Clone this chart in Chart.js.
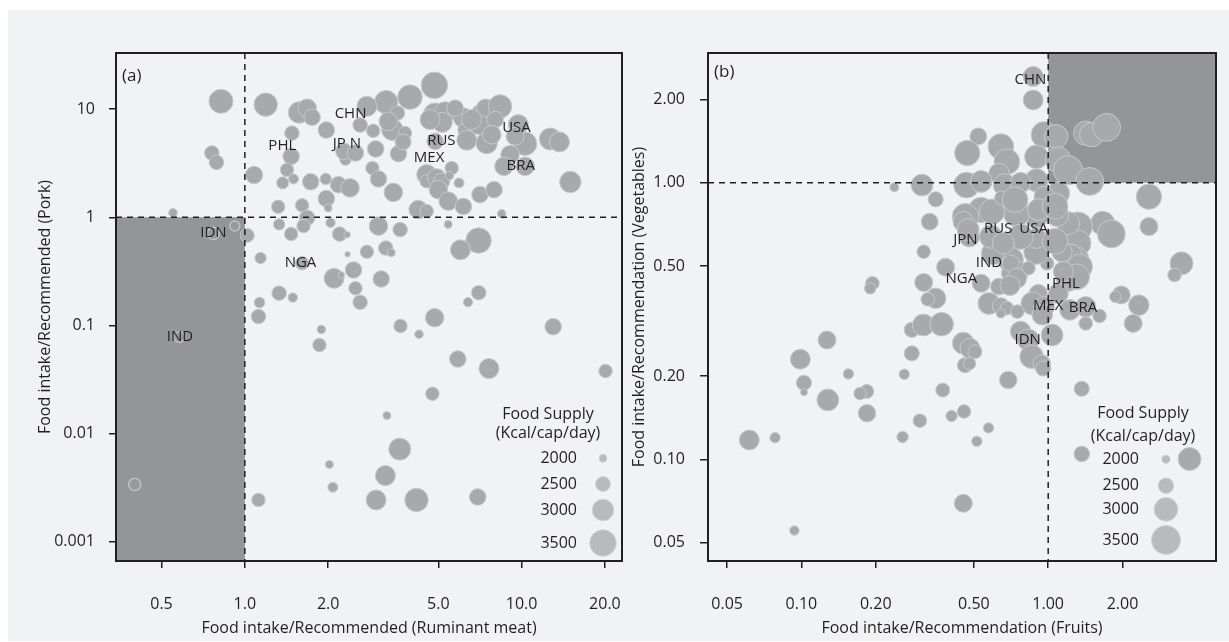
<!DOCTYPE html>
<html><head><meta charset="utf-8">
<script src="https://cdn.jsdelivr.net/npm/chart.js@4.4.0/dist/chart.umd.min.js"></script>
<style>
html,body{margin:0;padding:0;background:#fff;width:1229px;height:642px;overflow:hidden;}
#bg{position:absolute;left:8px;top:10px;width:1221px;height:631px;background:#f1f2f4;}
#c1{position:absolute;left:0;top:0;}
#c2{position:absolute;left:624px;top:0;}
</style></head><body>
<div id="bg"></div>
<canvas id="c1" width="624" height="642"></canvas>
<canvas id="c2" width="605" height="642"></canvas>
<script>
// ---------------- Panel (a): ruminant meat vs pork ----------------
const meatX = [0.82,1.19,1.57,1.68,1.75,1.97,1.48,1.47,1.42,1.37,1.50,1.73,1.96,2.18,2.40,1.97,2.0,1.32,1.61,1.68,1.63,1.33,2.04,0.76,0.79,1.08,0.55,2.31,2.28,2.51,0.92,1.02,0.77,
 4.84,3.95,3.24,2.76,3.56,3.41,3.79,2.91,2.97,3.59,4.87,5.29,5.17,4.67,4.87,6.16,6.25,6.34,7.18,7.42,8.36,7.02,7.48,9.73,10.3,9.08,8.63,10.3,12.7,13.7,15.0,
 5.59,4.54,4.54,4.94,5.14,5.0,5.48,5.94,5.43,6.16,7.07,7.95,8.47,4.23,4.54,3.04,3.64,5.43,6.99,2.89,3.04,3.44,3.73,2.61,5.75,6.6,8.02,7.8,9.47,3.3,
 1.47,2.2,2.34,6.01,1.14,1.61,2.35,2.76,3.23,3.38,2.1,2.23,2.47,2.51,2.61,3.11,1.33,1.49,1.13,1.12,7.0,6.4,4.85,3.65,4.26,13.0,1.89,1.86,5.88,7.62,20.1,
 4.76,3.26,3.63,2.02,3.22,2.08,1.12,2.98,4.17,6.94,0.40,0.58];
const porkY = [11.8,11.0,9.3,10.2,8.4,6.4,6.0,3.66,2.75,2.08,2.26,2.13,2.26,2.0,1.87,1.49,1.22,1.25,1.29,0.99,0.83,0.86,0.89,3.93,3.22,2.46,1.10,3.41,4.07,3.93,0.83,0.68,0.71,
 16.6,12.9,11.6,10.6,9.2,6.45,6.0,6.3,4.28,3.87,8.9,9.3,7.55,8.0,5.04,8.3,6.4,5.15,8.9,10.2,10.6,7.2,4.86,7.2,4.79,3.79,2.96,2.96,5.29,4.97,2.12,
 2.85,2.48,2.15,2.31,2.15,1.8,2.42,2.08,1.41,1.26,1.62,1.8,1.08,1.18,1.14,0.83,0.77,0.86,0.61,2.85,2.26,1.70,4.96,7.13,10.2,8.0,8.0,5.8,5.6,7.7,
 0.70,0.70,0.69,0.50,0.42,0.376,0.455,0.48,0.52,0.47,0.273,0.293,0.326,0.221,0.164,0.269,0.199,0.181,0.163,0.121,0.201,0.164,0.118,0.099,0.083,0.0975,0.092,0.066,0.049,0.040,0.038,
 0.0234,0.0147,0.0072,0.0052,0.0041,0.0032,0.00244,0.00244,0.00244,0.0026,0.0034,0.078];
const supplyA = [3240,3180,2990,2770,2620,2620,2470,2620,2390,2290,2140,2620,2240,2620,2770,2620,2000,2390,2390,2530,2390,2240,2100,2470,2470,2680,2040,2240,2620,2620,2140,2430,2290,
 3500,3300,3180,2880,2470,2990,2390,2390,2620,2620,3180,2990,2880,2880,2620,2880,2470,2880,2990,2770,3180,2880,2990,2880,3180,2770,2770,2770,3040,2880,2990,
 2390,2880,2390,2770,2620,2770,2040,2140,2770,2620,2620,2620,2040,2770,2390,2770,2470,2000,3380,2390,2620,2770,2580,2470,2620,2880,2620,2770,2720,2770,
 2390,2470,1900,2880,2240,2390,1815,2390,2470,2000,2880,1900,2620,2390,2470,2620,2470,2100,2190,2470,2470,2100,2770,2390,2040,2620,2040,2390,2620,2880,2390,
 2390,2000,3040,2000,2880,2140,2390,2880,3180,2620,2290,2190];
const countryA = ['CHN','PHL','JP N','RUS','MEX','USA','BRA','IDN','NGA','IND'];
const countryAX = [2.41,1.366,2.336,5.13,4.63,9.58,9.93,0.77,1.589,0.583];
const countryAY = [9.15,4.56,4.83,5.07,3.56,6.73,2.98,0.716,0.38,0.0788];
const xTicksA = [0.5,1,2,5,10,20];
const xTickLabelsA = ['0.5','1.0','2.0','5.0','10.0','20.0'];
const yTicksA = [0.001,0.01,0.1,1,10];
const yTickLabelsA = ['0.001','0.01','0.1','1','10'];

// ---------------- Panel (b): fruits vs vegetables ----------------
const fruitX = [0.869,0.869,0.964,1.077,1.419,1.5,1.725,0.521,0.47,0.643,0.68,0.632,0.896,1.097,1.203,1.473,0.896,0.308,0.238,0.35,0.467,0.535,0.667,0.773,1.097,0.964,2.56,2.56,3.47,3.25,
 1.663,1.803,1.318,1.318,1.203,1.294,1.224,1.137,1.343,1.203,0.99,0.896,0.896,1.089,0.896,0.745,0.773,0.705,0.732,0.597,0.586,0.535,0.592,0.462,0.453,0.479,0.331,0.313,0.384,0.313,
 0.194,0.19,0.35,0.325,0.535,0.632,0.705,0.832,0.912,0.863,0.964,0.946,0.575,0.643,0.68,0.75,0.643,1.224,1.419,1.614,1.419,1.977,1.87,2.33,2.21,1.037,0.773,0.127,
 0.474,0.647,0.734,0.912,1.066,1.066,0.658,0.28,0.312,0.37,0.28,0.261,0.453,0.482,0.505,0.46,0.48,0.689,0.374,1.367,0.184,0.831,0.857,0.941,0.955,0.745,1.305,1.151,1.099,0.7,
 0.099,0.155,0.1024,0.1024,0.128,0.173,0.1845,0.0615,0.0782,0.0937,0.453,0.257,0.302,0.406,0.456,0.573,0.514,1.368,3.74];
const vegY = [2.42,1.99,1.49,1.47,1.51,1.49,1.585,1.47,1.28,1.35,1.19,1.08,1.24,1.21,1.11,1.01,1.02,0.98,0.963,0.871,0.98,1.01,0.98,1.0,0.915,0.89,0.89,0.694,0.511,0.464,
 0.713,0.653,0.694,0.604,0.713,0.526,0.541,0.563,0.497,0.445,0.511,0.563,0.63,0.764,0.754,0.775,0.638,0.526,0.471,0.556,0.638,0.797,0.786,0.754,0.723,0.638,0.723,0.563,0.495,0.436,
 0.433,0.415,0.382,0.379,0.433,0.421,0.511,0.491,0.398,0.366,0.356,0.333,0.366,0.358,0.352,0.342,0.337,0.347,0.356,0.33,0.31,0.393,0.387,0.361,0.31,0.2815,0.29,0.27,
 0.676,0.88,0.868,0.799,0.822,0.614,0.605,0.294,0.306,0.308,0.2416,0.203,0.263,0.252,0.245,0.219,0.222,0.1936,0.178,0.18,0.176,0.27,0.235,0.222,0.213,0.451,0.457,0.477,0.398,0.425,
 0.23,0.2036,0.189,0.175,0.164,0.173,0.1468,0.1175,0.1198,0.0553,0.0694,0.1205,0.138,0.1435,0.149,0.13,0.1162,0.1046,0.1003];
const supplyB = [2770,2770,3240,2990,3040,3040,3380,2580,3140,3180,3180,2800,2990,3180,3500,3380,2950,2880,2040,2470,3180,2880,2950,2800,2950,2800,3140,2650,2950,2360,
 3040,3380,3500,3240,2950,3240,3140,2800,3140,2950,2360,3140,2800,2950,2950,3240,3140,3140,3240,2950,2950,3140,3140,3240,2800,2800,2580,2360,2650,2650,
 2360,2210,2800,2360,2650,2580,2580,2360,2650,2950,2800,2800,2880,2580,2360,2360,2070,2800,2800,2360,2360,2650,2210,2800,2650,2880,2800,2650,
 2880,2390,3180,2880,3180,3180,2880,2470,2880,2990,2470,2140,2880,2770,2390,2470,2290,2620,2390,2470,2390,2880,2990,2620,2470,2770,3180,2770,2770,2770,
 2770,2140,2470,1900,2880,2290,2620,2770,2140,2070,2650,2210,2360,2210,2360,2140,2140,2500,2950];
const countryB = ['CHN','RUS','USA','JPN','IND','NGA','PHL','MEX','BRA','IDN'];
const countryBX = [0.847,0.627,0.873,0.462,0.575,0.445,1.18,1.0,1.383,0.826];
const countryBY = [2.364,0.684,0.679,0.624,0.514,0.448,0.433,0.36,0.353,0.2716];
const xTicksB = [0.05,0.1,0.2,0.5,1,2];
const xTickLabelsB = ['0.05','0.10','0.20','0.50','1.00','2.00'];
const yTicksB = [0.05,0.1,0.2,0.5,1,2];
const yTickLabelsB = ['0.05','0.10','0.20','0.50','1.00','2.00'];

// size legend
const legendKcal = [2000,2500,3000,3500];

// ---------------- styling ----------------
const FONT = '"Open Sans", "Noto Sans", "DejaVu Sans", sans-serif';
const NARROW = '"Liberation Sans Narrow", "Arial Narrow", "Open Sans", sans-serif';
const INK = '#231f20';
const FS = 16;
Chart.defaults.font.family = FONT;
Chart.defaults.color = INK;

// kcal -> pixel radius (piecewise)
const SIZE_A = [4, 7.5, 10.8, 13.3];
const SIZE_B = [4.2, 7.8, 11.9, 14.6];
function radiusOf(k, R) {
  const K = legendKcal;
  if (k <= K[0]) return Math.max(2, R[0] - (K[0]-k)*0.007);
  for (let i = 1; i < K.length; i++) {
    if (k <= K[i]) return R[i-1] + (k-K[i-1])/(K[i]-K[i-1])*(R[i]-R[i-1]);
  }
  return R[3] + (k-K[3])*0.005;
}

function panelPlugin(p) {
  return {
    id: 'panel' + p.tag.replace(/\W/g,''),
    beforeDatasetsDraw(chart) {
      const {ctx, chartArea: a, scales: {x, y}} = chart;
      const x1 = x.getPixelForValue(1), y1 = y.getPixelForValue(1);
      ctx.save();
      ctx.fillStyle = '#939598';
      if (p.shade === 'low') ctx.fillRect(a.left, y1, x1 - a.left, a.bottom - y1);
      else ctx.fillRect(x1, a.top, a.right - x1, y1 - a.top);
      ctx.restore();
    },
    afterDatasetsDraw(chart) {
      const {ctx, chartArea: a, scales: {x, y}} = chart;
      const x1 = x.getPixelForValue(1), y1 = y.getPixelForValue(1);
      ctx.save();
      // dashed reference lines
      ctx.strokeStyle = INK; ctx.lineWidth = 1.5; ctx.setLineDash([6,5]);
      ctx.beginPath(); ctx.moveTo(x1, a.top); ctx.lineTo(x1, a.bottom); ctx.stroke();
      ctx.beginPath(); ctx.moveTo(a.left, y1); ctx.lineTo(a.right, y1); ctx.stroke();
      ctx.setLineDash([]);
      // frame
      ctx.lineWidth = 2;
      ctx.strokeRect(a.left, a.top, a.right - a.left, a.bottom - a.top);
      // country labels
      ctx.fillStyle = INK;
      ctx.font = '15px ' + NARROW;
      ctx.textAlign = 'center'; ctx.textBaseline = 'middle';
      p.names.forEach((n, i) => {
        ctx.fillText(n, x.getPixelForValue(p.nx[i]), y.getPixelForValue(p.ny[i]));
      });
      // panel tag
      ctx.font = '17px ' + FONT;
      ctx.textAlign = 'left';
      ctx.fillText(p.tag, a.left + 6, a.top + p.tagDy);
      // size legend
      const L = p.legend;
      ctx.font = FS + 'px ' + FONT;
      ctx.textAlign = 'center';
      ctx.fillText('Food Supply', a.right + L.titleX, a.bottom + L.t1);
      ctx.fillText('(Kcal/cap/day)', a.right + L.titleX, a.bottom + L.t2);
      legendKcal.forEach((k, i) => {
        const yy = a.bottom + L.rows[i];
        ctx.textAlign = 'right';
        ctx.fillStyle = INK;
        ctx.fillText(String(k), a.right + L.numX, yy);
        ctx.beginPath();
        ctx.arc(a.right + L.circX, yy, radiusOf(k, p.size), 0, Math.PI*2);
        ctx.fillStyle = '#b8babd'; ctx.fill();
        ctx.strokeStyle = '#d2d4d6'; ctx.lineWidth = 1; ctx.stroke();
      });
      ctx.restore();
    }
  };
}

function makeChart(id, o) {
  const data = o.xs.map((v, i) => ({x: v, y: o.ys[i], k: o.ks[i]}));
  const inShade = r => r && (o.panel.shade === 'low' ? (r.x < 1 && r.y < 1) : false);
  return new Chart(document.getElementById(id), {
    type: 'bubble',
    data: { datasets: [{
      data,
      backgroundColor: ctx => inShade(ctx.raw) ? 'rgba(167,169,172,0.25)' : '#a7a9ac',
      borderColor: ctx => inShade(ctx.raw) ? '#bfc1c4' : '#c6c8cb',
      borderWidth: ctx => inShade(ctx.raw) ? 1.5 : 1,
      radius: ctx => radiusOf(ctx.raw ? ctx.raw.k : 2500, o.panel.size)
    }]},
    options: {
      responsive: false, animation: false, devicePixelRatio: 1, events: [],
      layout: { autoPadding: false, padding: o.pad },
      plugins: { legend: {display: false}, tooltip: {enabled: false} },
      scales: {
        x: {
          type: 'logarithmic', position: 'bottom', min: o.xmin, max: o.xmax, bounds: 'data',
          afterBuildTicks: s => { s.ticks = o.xt.map(v => ({value: v})); s.min = o.xmin; s.max = o.xmax; },
          afterFit: s => { s.height = 77; s.paddingLeft = 0; s.paddingRight = 0; },
          ticks: { callback: (v, i) => o.xl[i], padding: 27, autoSkip: false, maxRotation: 0, minRotation: 0,
                   font: {size: FS}, color: INK },
          grid: { drawOnChartArea: false, drawTicks: true, tickLength: 7, color: INK, lineWidth: 1.5 },
          border: { display: false },
          title: { display: true, text: o.xTitle, font: {size: FS}, color: INK, padding: {top: 0, bottom: 0} }
        },
        y: {
          type: 'logarithmic', position: 'left', min: o.ymin, max: o.ymax, bounds: 'data',
          afterBuildTicks: s => { s.ticks = o.yt.map(v => ({value: v})); s.min = o.ymin; s.max = o.ymax; },
          afterFit: s => { s.width = o.yw; s.paddingTop = 0; s.paddingBottom = 0; },
          ticks: { callback: (v, i) => o.yl[i], padding: o.ypad, autoSkip: false, font: {size: FS}, color: INK },
          grid: { drawOnChartArea: false, drawTicks: true, tickLength: o.ytl, color: INK, lineWidth: 1.5 },
          border: { display: false },
          title: { display: true, text: o.yTitle, font: {size: FS}, color: INK, padding: {top: o.ytp, bottom: 0} }
        }
      }
    },
    plugins: [panelPlugin(o.panel)]
  });
}

makeChart('c1', {
  xs: meatX, ys: porkY, ks: supplyA,
  xmin: 0.3424, xmax: 23.05, ymin: 0.000666, ymax: 33.0,
  xt: xTicksA, xl: xTickLabelsA, yt: yTicksA, yl: yTickLabelsA,
  pad: {left: 36, right: 2, top: 53, bottom: 4}, yw: 80, ypad: 14, ytl: 7, ytp: 0,
  xTitle: 'Food intake/Recommended (Ruminant meat)',
  yTitle: 'Food intake/Recommended (Pork)',
  panel: { tag: '(a)', tagDy: 23, shade: 'low', size: SIZE_A, names: countryA, nx: countryAX, ny: countryAY,
    legend: { titleX: -74, t1: -147, t2: -128, numX: -45, circX: -19, rows: [-102.7, -77, -51, -18] } }
});

makeChart('c2', {
  xs: fruitX, ys: vegY, ks: supplyB,
  xmin: 0.04183, xmax: 4.786, ymin: 0.04293, ymax: 2.942,
  xt: xTicksB, xl: xTickLabelsB, yt: yTicksB, yl: yTickLabelsB,
  pad: {left: 6, right: 13, top: 53, bottom: 4}, yw: 78, ypad: 15, ytl: 8, ytp: 0,
  xTitle: 'Food intake/Recommendation (Fruits)',
  yTitle: 'Food intake/Recommendation (Vegetables)',
  panel: { tag: '(b)', tagDy: 19, shade: 'high', size: SIZE_B, names: countryB, nx: countryBX, ny: countryBY,
    legend: { titleX: -73, t1: -148, t2: -125, numX: -77, circX: -50, rows: [-101.7, -75.3, -51.7, -21] } }
});
</script>
</body></html>
